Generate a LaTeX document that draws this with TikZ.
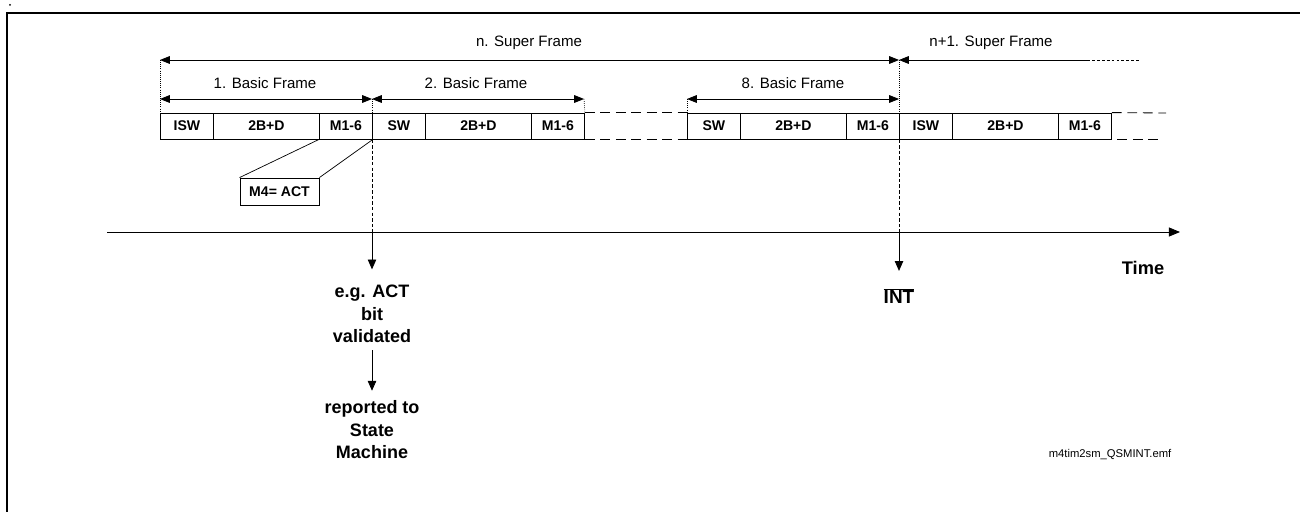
\documentclass[tikz,border=0pt]{standalone}
\usepackage{fontspec}
\setmainfont{Liberation Sans}
\usetikzlibrary{arrows.meta}

\tikzset{
  cell/.style={draw, line width=0.6pt, minimum height=0.65cm, inner sep=0pt,
    font=\bfseries\fontsize{10}{11}\selectfont},
  smallcell/.style={cell, minimum width=1.325cm, anchor=west},
  widecell/.style={cell, minimum width=2.65cm, anchor=west},
  tip/.style={-{Triangle[length=7pt,width=6pt]}, line width=0.6pt},
  dimline/.style={{Triangle[length=7pt,width=5.5pt]}-{Triangle[length=7pt,width=5.5pt]}, line width=0.6pt},
  lbl/.style={font=\fontsize{10.7}{12}\selectfont},
  event/.style={font=\bfseries\fontsize{12.8}{16}\selectfont, align=center, inner sep=0pt},
  guide/.style={line width=0.5pt, densely dotted},
  drop/.style={line width=0.5pt, dash pattern=on 2.5pt off 1.5pt},
  gap/.style={line width=0.6pt, dash pattern=on 7pt off 4pt},
}

\begin{document}
\begin{tikzpicture}[x=0.025cm, y=-0.025cm]
    \useasboundingbox (0,0) rectangle (1300,512);

    % Rahmen
    \draw[line width=1.8pt] (7,512) -- (7,13) -- (1300,13);
    \fill (10,5) circle (1);

    % Basic Frames: ISW/SW, 2B+D, M1-6
    \foreach \x/\s/\n in {160/ISW/a, 372/SW/b, 687/SW/c, 899/ISW/d} {
        \node[smallcell] (s\n) at (\x,126)     {\s};
        \node[widecell]  (p\n) at (\x+53,126)  {2B+D};
        \node[smallcell] (m\n) at (\x+159,126) {M1-6};
    }

    % Luecken
    \draw[gap] (mb.north east) -- (sc.north west);
    \draw[gap] (mb.south east) -- (sc.south west);
    \coordinate (e1) at (1166,113);
    \coordinate (e2) at (1102,139);
    \coordinate (e3) at (1158,139);
    \draw[gap] (md.north east) -- (e1);
    \draw[gap] (e2) -- (e3);

    % Super Frames
    \coordinate (sf0) at (160,60);
    \coordinate (sf1) at (899,60);
    \coordinate (sf2) at (1087,60);
    \coordinate (sf3) at (1140,60);
    \draw[dimline] (sf0) -- (sf1);
    \draw[{Triangle[length=7pt,width=5.5pt]}-, line width=0.6pt] (sf1) -- (sf2);
    \draw[line width=0.5pt, dash pattern=on 2pt off 1.5pt] (sf2) -- (sf3);
    \node[lbl] (sfn) at (529,43) {n. Super Frame};
    \node[lbl] (sfm) at (991,43) {n+1. Super Frame};

    % Basic-Frame-Pfeile
    \coordinate (b0) at (160,99);
    \coordinate (b1) at (372,99);
    \coordinate (b2) at (584,99);
    \coordinate (b7) at (687,99);
    \coordinate (b8) at (899,99);
    \draw[dimline] (b0) -- (b1);
    \draw[dimline] (b1) -- (b2);
    \draw[dimline] (b7) -- (b8);
    \node[lbl] (bf1) at (265,83) {1. Basic Frame};
    \node[lbl] (bf2) at (476,83) {2. Basic Frame};
    \node[lbl] (bf8) at (793,83) {8. Basic Frame};

    % Hilfslinien
    \draw[guide] (sf0) -- (sa.west |- sa.north);
    \draw[guide] (b1) -- (sb.north west);
    \draw[guide] (b2) -- (mb.north east);
    \draw[guide] (b7) -- (sc.north west);
    \draw[guide] (sf1) -- (sd.north west);

    % M4 Detail
    \node[cell, minimum width=1.975cm, minimum height=0.675cm] (m4) at (279.5,191.5) {M4= ACT};
    \draw[line width=0.5pt] (ma.south west) -- (m4.north west);
    \draw[line width=0.5pt] (ma.south east) -- (m4.north east);

    % Zeitachse
    \coordinate (t0) at (107,232);
    \coordinate (t9) at (1180,232);
    \coordinate (t1) at (372,232);
    \coordinate (t2) at (899,232);
    \draw[-{Triangle[length=8pt,width=6.5pt]}, line width=0.6pt] (t0) -- (t9);
    \node[font=\bfseries\fontsize{13}{15}\selectfont] (time) at (1143,268) {Time};

    % Ereignisse
    \draw[drop] (sb.south west) -- (t1);
    \draw[drop] (sd.south west) -- (t2);
    \node[event] (ev1) at (372,314) {e.g. ACT\\bit\\validated};
    \node[event] (rep) at (372,430) {reported to\\State\\Machine};
    \node[event, font=\bfseries\fontsize{13.5}{15}\selectfont] (int) at (899,296) {$\overline{\mbox{INT}}$};
    \draw[tip, shorten >=11pt] (t1) -- (ev1);
    \draw[tip, shorten <=5pt, shorten >=7pt] (ev1) -- (rep);
    \draw[tip, shorten >=12pt] (t2) -- (int);

    \node[font=\fontsize{8}{9}\selectfont] (file) at (1110,455) {m4tim2sm\_QSMINT.emf};
\end{tikzpicture}
\end{document}
